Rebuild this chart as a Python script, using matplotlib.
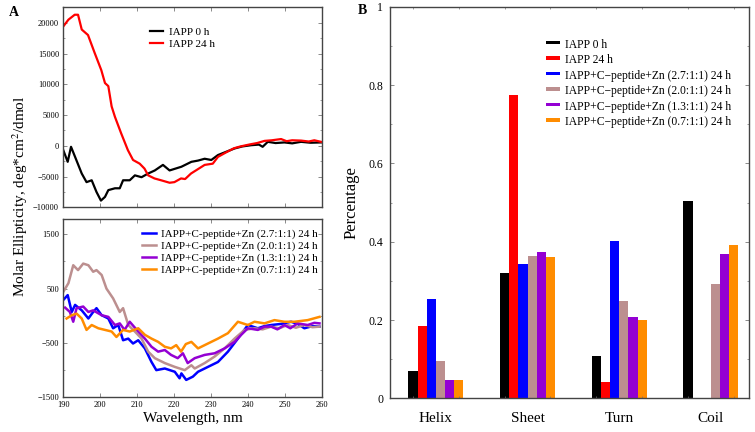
import matplotlib
matplotlib.use('Agg')
import matplotlib.pyplot as plt
from matplotlib.ticker import MultipleLocator, FixedLocator, NullFormatter

plt.rcParams['font.family'] = ['Liberation Serif', 'DejaVu Serif']
plt.rcParams['mathtext.fontset'] = 'stix'

# ---- panel A, top: IAPP alone ----
wl_0h = [190, 191.2, 192.1, 193.2, 195, 196.3, 197.7, 199, 200.2, 201.3, 202.2, 204,
         205.3, 206.2, 208, 209.4, 211.2, 213, 214.8, 217, 218.8, 222, 224.7, 226.5,
         228.3, 230.1, 231.9, 234, 236.4, 238.5, 240.9, 243, 244, 245.4, 247.5, 249.9,
         252, 254.4, 257, 259.8]
cd_0h = [-700, -2600, -160, -1800, -4500, -5900, -5600, -7500, -8900, -8300, -7200, -6900,
         -6900, -5600, -5600, -4800, -5100, -4500, -4000, -3100, -4000, -3400, -2600, -2400,
         -2100, -2300, -1500, -1000, -430, -100, 100, 200, -160, 650, 450, 550,
         400, 650, 500, 550]

wl_24h = [190, 191.4, 193.1, 194, 195, 196.7, 198.5, 200.3, 201.3, 202.2, 203.1, 204,
          205.7, 207.5, 208.9, 210.7, 212, 213, 214.7, 216.5, 218.8, 220.1, 221.9, 223,
          224.6, 228.3, 230.5, 231.9, 234, 236.2, 238, 240.7, 242.5, 244.5, 246.5, 249,
          250.5, 252, 254.4, 256.5, 258, 259.8]
cd_24h = [19400, 20500, 21300, 21300, 18900, 18000, 15100, 12300, 10200, 9700, 6400, 4700,
          2000, -700, -2300, -2900, -3700, -4800, -5300, -5600, -6000, -5900, -5300, -5400,
          -4500, -3100, -2900, -1800, -1100, -400, -100, 250, 450, 800, 900, 1100,
          750, 900, 850, 700, 900, 650]

# ---- panel A, bottom: IAPP + C-peptide + Zn ----
wl_27 = [190, 191.2, 192.3, 193.2, 195, 196.8, 198.1, 199, 200.4, 202.2, 203.5, 204.9,
         206.2, 207.6, 208.9, 210.3, 212.1, 213.9, 215.2, 217.5, 220.2, 221.5, 222, 223.3,
         225.1, 226.5, 229.2, 231.9, 234.6, 237.3, 240, 242.7, 244.5, 246.3, 249, 251.7,
         253.5, 255.3, 257.5, 259.4]
cd_27 = [290, 380, 70, 200, 100, -50, 70, 140, 10, -50, -230, -170,
         -450, -420, -510, -450, -600, -850, -1000, -970, -1030, -1150, -1060, -1180,
         -1120, -1030, -940, -850, -660, -420, -170, -230, -190, -170, -150, -110,
         -150, -230, -190, -200]

wl_20 = [190, 191.4, 192.7, 194, 195.4, 196.8, 198.1, 199, 200.4, 201.7, 203.5, 205.3,
         206.2, 207.6, 209.4, 211.2, 213, 214.8, 217.5, 220.2, 222.9, 224.7, 225.6, 228.3,
         231, 233.7, 236.4, 239.1, 241.8, 244, 246.3, 248.5, 250.8, 253, 255.3, 257.5,
         259.4]
cd_20 = [440, 600, 930, 840, 960, 930, 810, 840, 750, 500, 320, 70,
         140, -170, -290, -420, -660, -780, -870, -940, -1000, -910, -970, -870,
         -750, -600, -420, -260, -230, -250, -200, -230, -170, -220, -170, -210,
         -200]

wl_13 = [190.5, 191.8, 192.7, 193.6, 195.4, 196.8, 198.1, 200.4, 202.2, 204, 205.3, 206.6,
         208, 210.3, 212.1, 213.9, 215.7, 217.5, 219.2, 221, 222.4, 223.7, 225.6, 228.3,
         231, 233.7, 236.4, 238.2, 240, 242.7, 244.5, 246.3, 248, 249.9, 251.5, 253.5,
         256.2, 258, 259.4]
cd_13 = [150, 70, -110, 140, 170, 70, 100, 10, -20, -170, -140, -260,
         -110, -290, -420, -570, -660, -630, -720, -780, -690, -870, -780, -720,
         -690, -600, -480, -350, -230, -260, -200, -200, -250, -170, -230, -140,
         -170, -130, -140]

wl_07 = [190.9, 192.3, 193.6, 195, 196.3, 197.7, 199.5, 201.3, 203.1, 204.4, 206.2, 208,
         210.3, 212.1, 213.9, 215.7, 217.5, 219.2, 220.6, 221.9, 223.2, 224.7, 226.5, 229.2,
         231.9, 234.6, 237.3, 240, 241.8, 244.5, 247.2, 249.9, 252.6, 256.2, 259.4]
cd_07 = [-50, 10, 40, -50, -260, -170, -230, -260, -290, -390, -260, -290,
         -230, -350, -420, -480, -570, -600, -540, -660, -520, -480, -600, -510,
         -420, -320, -110, -170, -110, -140, -80, -110, -110, -80, -20]

# ---- panel B: secondary structure fractions ----
categories = ['Helix', 'Sheet', 'Turn', 'Coil']
series_names = ['IAPP 0 h', 'IAPP 24 h',
                'IAPP+C\u2212peptide+Zn (2.7:1:1) 24 h',
                'IAPP+C\u2212peptide+Zn (2.0:1:1) 24 h',
                'IAPP+C\u2212peptide+Zn (1.3:1:1) 24 h',
                'IAPP+C\u2212peptide+Zn (0.7:1:1) 24 h']
frac_0h = [0.070, 0.319, 0.109, 0.504]
frac_24h = [0.185, 0.775, 0.041, 0.0]
frac_27 = [0.254, 0.343, 0.403, 0.0]
frac_20 = [0.096, 0.363, 0.249, 0.292]
frac_13 = [0.047, 0.375, 0.208, 0.369]
frac_07 = [0.047, 0.360, 0.200, 0.392]

colors = ['black', '#ff0000', '#0000ff', '#bc8f8f', '#9400d3', '#ff8c00']
frame = '#444444'


def style_axes(ax):
    for s in ax.spines.values():
        s.set_color(frame)
        s.set_linewidth(1.0)
    ax.tick_params(which='both', direction='in', top=True, right=True, color='#777777')
    ax.tick_params(which='major', length=3, width=0.6)
    ax.tick_params(which='minor', length=1.5, width=0.5)


fig = plt.figure(figsize=(7.55, 4.32), dpi=100)

# top CD panel
ax1 = fig.add_axes([0.0838, 0.520, 0.3423, 0.4644])
ax1.plot(wl_0h, cd_0h, color=colors[0], lw=1.6, label='IAPP 0 h')
ax1.plot(wl_24h, cd_24h, color=colors[1], lw=1.6, label='IAPP 24 h')
ax1.set_xlim(190, 260)
ax1.set_ylim(-10000, 22600)
ax1.xaxis.set_major_locator(MultipleLocator(10))
ax1.yaxis.set_major_locator(MultipleLocator(5000))
ax1.yaxis.set_minor_locator(MultipleLocator(2500))
ax1.xaxis.set_major_formatter(NullFormatter())
style_axes(ax1)
ax1.tick_params(labelsize=6, pad=3)
ax1.legend(loc='upper left', bbox_to_anchor=(0.305, 0.935), frameon=False, fontsize=8,
           handlelength=1.2, handletextpad=0.5, labelspacing=0.15, borderpad=0.2)

# bottom CD panel
ax2 = fig.add_axes([0.0838, 0.0803, 0.3423, 0.4127])
ax2.plot(wl_27, cd_27, color=colors[2], lw=1.8, label='IAPP+C-peptide+Zn (2.7:1:1) 24 h')
ax2.plot(wl_20, cd_20, color=colors[3], lw=1.8, label='IAPP+C-peptide+Zn (2.0:1:1) 24 h')
ax2.plot(wl_13, cd_13, color=colors[4], lw=1.8, label='IAPP+C-peptide+Zn (1.3:1:1) 24 h')
ax2.plot(wl_07, cd_07, color=colors[5], lw=1.8, label='IAPP+C-peptide+Zn (0.7:1:1) 24 h')
ax2.set_xlim(190, 260)
ax2.set_ylim(-1500, 1780)
ax2.xaxis.set_major_locator(MultipleLocator(10))
ax2.yaxis.set_major_locator(FixedLocator([-1500, -500, 500, 1500]))
ax2.yaxis.set_minor_locator(MultipleLocator(500))
style_axes(ax2)
ax2.tick_params(labelsize=6, pad=3)
ax2.set_xlabel('Wavelength, nm', fontsize=11, labelpad=2)
ax2.legend(loc='upper right', bbox_to_anchor=(1.0, 0.965), frameon=False, fontsize=8,
           handlelength=1.2, handletextpad=0.5, labelspacing=0.18, borderpad=0.15,
           borderaxespad=0.2)

fig.text(0.027, 0.545, 'Molar Ellipticity, deg*cm$^2$/dmol', rotation=90,
         ha='center', va='center', fontsize=11)
fig.text(0.012, 0.972, 'A', fontsize=10, fontweight='bold', ha='left', va='center')

# secondary structure bars
ax3 = fig.add_axes([0.5166, 0.078, 0.476, 0.906])
fractions = [frac_0h, frac_24h, frac_27, frac_20, frac_13, frac_07]
width = 0.1
for k, (vals, name) in enumerate(zip(fractions, series_names)):
    xs = [i + (k - 2.5) * width for i in range(len(categories))]
    ax3.bar(xs, vals, width=width, color=colors[k], label=name)
ax3.set_xlim(-0.5, 3.42)
ax3.set_ylim(0, 1)
ax3.set_xticks(range(len(categories)))
ax3.set_xticklabels(categories, fontsize=11)
ax3.xaxis.set_minor_locator(FixedLocator([i + d for i in range(4) for d in (-0.25, 0.25)]))
ax3.yaxis.set_minor_locator(MultipleLocator(0.1))
style_axes(ax3)
ax3.tick_params(axis='x', which='major', length=0, pad=10)
ax3.tick_params(axis='y', labelsize=8.5, pad=5)
ax3.set_yticks([0, 0.2, 0.4, 0.6, 0.8, 1.0])
ax3.set_yticklabels(['0', '0.2', '0.4', '0.6', '0.8', '1'])
ax3.set_ylabel('Percentage', fontsize=12, labelpad=6)
leg = ax3.legend(loc='upper left', bbox_to_anchor=(0.41, 0.94), frameon=False, fontsize=8.4,
                 handlelength=1.2, handletextpad=0.5, labelspacing=0.3, borderpad=0.2)
for h in leg.legend_handles:
    h.set_height(2.5)
    h.set_y(2.5)
fig.text(0.474, 0.975, 'B', fontsize=10, fontweight='bold', ha='left', va='center')

fig.savefig('out.png', dpi=100)
